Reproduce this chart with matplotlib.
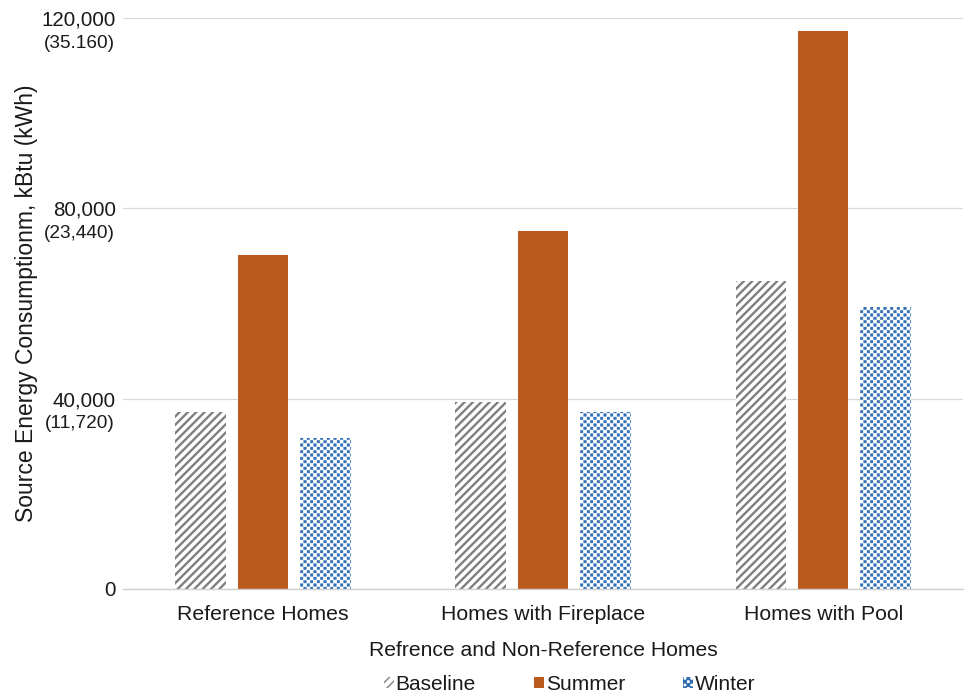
import numpy as np
import matplotlib
matplotlib.use("Agg")
import matplotlib.pyplot as plt
import matplotlib.hatch as mhatch
from matplotlib.path import Path

plt.rcParams["font.family"] = ["Liberation Sans", "DejaVu Sans"]

CATEGORIES = ["Reference Homes", "Homes with Fireplace", "Homes with Pool"]
SERIES = ["Baseline", "Summer", "Winter"]
BASELINE = [37200, 39300, 64700]
SUMMER = [70100, 75200, 117200]
WINTER = [31700, 37200, 59200]
YTICKS = [0, 40000, 80000, 120000]
YTICK_MAIN = ["0", "40,000", "80,000", "120,000"]
YTICK_SUB = ["", "(11,720)", "(23,440)", "(35.160)"]

GRAY = "#7f7f7f"
RUST = "#ba5a1f"
BLUE = "#2e6db4"
TXT = "#1a1a1a"


class CheckerHatch(mhatch.HatchPatternBase):
    """Checkerboard hatch, triggered by '*' (replaces the star pattern)."""

    def __init__(self, hatch, density):
        self.n = int(hatch.count("*") * density)
        if self.n % 2:
            self.n += 1
        self.num_vertices = (self.n * self.n // 2) * 5 if self.n else 0

    def set_vertices_and_codes(self, vertices, codes):
        s = 1.0 / self.n
        inset = s * 0.12
        k = 0
        for i in range(self.n):
            for j in range(self.n):
                if (i + j) % 2:
                    continue
                x0, y0 = i * s + inset, j * s + inset
                x1, y1 = (i + 1) * s - inset, (j + 1) * s - inset
                vertices[k:k + 5] = [(x0, y0), (x1, y0), (x1, y1), (x0, y1), (x0, y0)]
                codes[k:k + 5] = [Path.MOVETO, Path.LINETO, Path.LINETO,
                                  Path.LINETO, Path.CLOSEPOLY]
                k += 5


mhatch._hatch_types[:] = [CheckerHatch if t is mhatch.Stars else t
                          for t in mhatch._hatch_types]

fig = plt.figure(figsize=(9.69, 6.96), dpi=100)
ax = fig.add_axes([0.127, 0.154, 0.867, 0.820])

x = np.arange(len(CATEGORIES))
w = 0.18
step = 0.223
b1 = ax.bar(x - step, BASELINE, w, color="white", edgecolor=GRAY,
            linewidth=0, hatch="////", label=SERIES[0])
b2 = ax.bar(x, SUMMER, w, color=RUST, edgecolor=RUST, linewidth=0,
            label=SERIES[1])
b3 = ax.bar(x + step, WINTER, w, color="white", edgecolor=BLUE,
            linewidth=0, hatch="*****", label=SERIES[2])
for p in b1:
    if hasattr(p, "set_hatch_linewidth"):
        p.set_hatch_linewidth(1.7)
for p in b3:
    if hasattr(p, "set_hatch_linewidth"):
        p.set_hatch_linewidth(0.3)

ax.set_xlim(-0.5, 2.5)
ax.set_ylim(0, 120000)
ax.set_yticks(YTICKS)
ax.set_yticklabels(YTICK_MAIN)
ax.set_xticks(x)
ax.set_xticklabels(CATEGORIES)
ax.tick_params(axis="both", length=0, colors=TXT)
ax.tick_params(axis="y", pad=5, labelsize=14.8)
ax.tick_params(axis="x", pad=12, labelsize=15.3)
for v, sub in zip(YTICKS, YTICK_SUB):
    if sub:
        ax.annotate(sub, xy=(0, v), xycoords=("axes fraction", "data"),
                    xytext=(-6, -18), textcoords="offset points",
                    ha="right", va="center", fontsize=13.7, color=TXT)

ax.grid(axis="y", color="#d9d9d9", linewidth=0.9)
ax.set_axisbelow(True)
for s in ["top", "right", "left"]:
    ax.spines[s].set_visible(False)
ax.spines["bottom"].set_color("#d0d0d0")
ax.spines["bottom"].set_linewidth(1.0)

ax.set_xlabel("Refrence and Non-Reference Homes", fontsize=15.2, color=TXT,
              labelpad=12)
ax.set_ylabel("Source Energy Consumptionm, kBtu (kWh)", fontsize=16.5,
              color=TXT, labelpad=3)

leg = fig.legend(handles=[b1, b2, b3], labels=SERIES, loc="center",
                 bbox_to_anchor=(0.588, 0.017), ncol=3, frameon=False,
                 fontsize=15, handlelength=0.45, handleheight=0.45,
                 handletextpad=0.1, columnspacing=2.8, borderpad=0)
for t in leg.get_texts():
    t.set_color(TXT)

fig.savefig("out.png", dpi=100)
